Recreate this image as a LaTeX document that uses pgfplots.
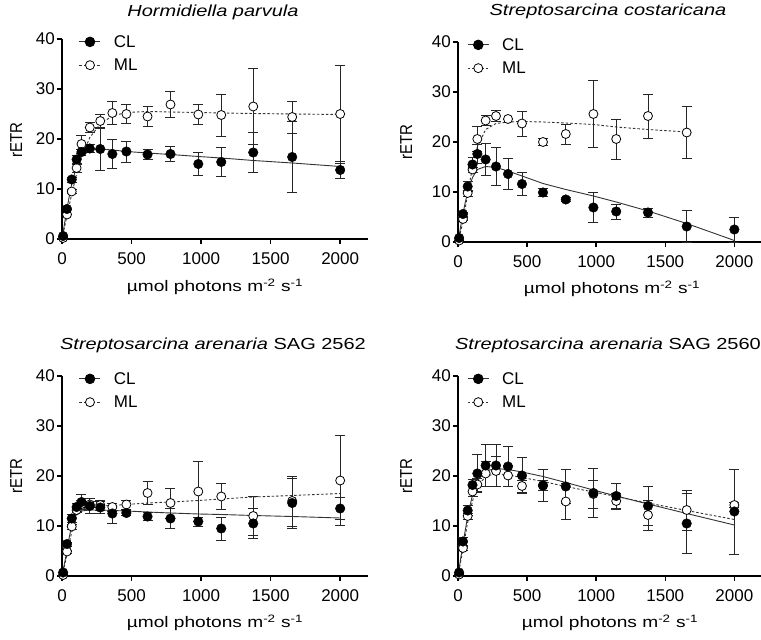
\documentclass[border=0pt]{standalone}
\usepackage{fontspec}
\setmainfont{Liberation Sans}
\usepackage{graphicx}
\usepackage{pgfplots}
\usepackage{pgfplotstable}
\pgfplotsset{compat=1.18}

% data: x, CL mean, CL sd, ML mean, ML sd
\pgfplotstableread{
x cl cle ml mle
8 0.6 0 0.2 0
36 6.0 0 4.9 0
70 11.9 0.5 9.5 0.4
105 15.9 0.8 14.2 0.8
140 17.4 0.6 19.0 1.8
200 18.1 0.8 22.3 1.0
275 18.0 4.2 23.6 1.3
362 17.0 2.9 25.2 2.3
463 17.5 2.1 25.0 1.9
615 16.9 1.0 24.5 2.0
780 17.0 1.5 26.9 2.6
980 15.0 2.3 24.9 2.0
1145 15.4 2.9 24.8 4.2
1375 17.3 4.0 26.5 7.6
1655 16.4 7.1 24.4 3.2
2000 13.8 1.7 25.0 9.8
}\Ta
\pgfplotstableread{
x cl cle ml mle
8 0.8 0 0.3 0
36 5.6 0.4 4.6 0.3
70 11.1 1.0 9.8 0.6
105 15.5 1.5 14.5 0.5
140 17.6 1.9 20.6 2.5
200 16.5 3.2 24.3 1.0
275 15.1 3.8 25.2 1.1
362 13.6 3.1 24.6 0
463 11.6 2.3 23.7 2.5
615 9.9 0.8 20.0 0.7
780 8.5 0.4 21.6 2.0
980 6.9 3.0 25.6 6.7
1145 6.1 1.5 20.6 4.0
1375 5.9 0.9 25.2 4.4
1655 3.1 3.2 21.9 5.2
2000 2.5 2.5 nan nan
}\Tb
\pgfplotstableread{
x cl cle ml mle
8 0.7 0 0.2 0
36 6.4 0.4 4.9 0.3
70 11.5 0.8 9.9 0.5
105 13.8 0.8 13.2 0.5
140 14.8 1.5 14.4 0.7
200 14.0 1.5 14.3 0.6
275 13.7 1.2 14.2 1.0
362 12.5 2.0 13.8 0.8
463 12.6 0.5 14.3 0.9
615 11.9 0.8 16.6 2.3
780 11.5 2.0 14.6 3.0
980 10.9 0.9 16.9 6.0
1145 9.5 2.3 15.9 2.6
1375 10.5 3.0 12.0 3.9
1655 14.6 5.0 15.0 5.0
2000 13.5 2.2 19.1 9.0
}\Tc
\pgfplotstableread{
x cl cle ml mle
8 0.7 0 0.3 0
36 6.9 0.9 5.6 0.5
70 13.1 1.0 12.0 0.6
105 18.2 1.2 16.9 1.0
140 20.5 3.8 18.3 1.3
200 22.1 4.2 20.5 2.5
275 22.1 4.2 21.0 3.0
362 21.9 4.0 20.1 2.1
463 20.1 3.6 18.0 1.2
615 18.1 3.2 18.1 1.0
780 17.9 3.4 14.9 3.6
980 16.6 4.9 16.4 2.8
1145 16.0 2.5 15.0 1.6
1375 14.0 3.9 12.2 3.0
1655 10.5 6.0 13.2 4.0
2000 12.9 8.5 14.2 0.5
}\Td
% fitted curves
\pgfplotstableread{
x clf mlf
0 0 0
20 3.4 2.6
36 6.0 4.7
50 8.2 6.5
70 11.0 9.0
105 14.6 13.0
140 16.5 16.3
200 17.7 20.3
275 18.0 23.0
362 17.8 24.6
463 17.5 25.3
615 17.2 25.5
780 16.9 25.4
980 16.5 25.3
1145 16.2 25.2
1375 15.7 25.1
1655 15.2 25.0
2000 14.5 24.9
}\Fa
\pgfplotstableread{
x clf mlf
0 0 0
20 3.2 2.2
36 5.6 4.3
50 7.6 6.4
70 10.0 9.6
105 12.9 15.0
140 14.5 19.0
200 15.1 22.5
275 14.9 23.7
362 14.2 24.0
463 13.2 24.1
615 11.7 24.0
780 10.5 23.8
980 9.2 23.5
1145 8.0 23.0
1375 6.2 22.5
1655 3.7 22.0
2000 0.3 nan
}\Fb
\pgfplotstableread{
x clf mlf
0 0 0
20 2.8 2.3
36 5.2 4.3
50 7.4 6.2
70 10.2 8.8
105 12.4 12.0
140 13.0 13.3
200 13.2 13.9
275 13.2 14.0
362 13.1 14.1
463 13.0 14.3
615 12.8 14.6
780 12.6 14.8
980 12.4 15.1
1145 12.3 15.4
1375 12.1 15.8
1655 11.9 16.1
2000 11.6 16.5
}\Fc
\pgfplotstableread{
x clf mlf
0 0 0
20 3.6 3.0
36 6.4 5.4
50 8.7 7.6
70 12.0 10.8
105 16.2 15.0
140 19.0 17.9
200 21.0 19.9
275 21.5 20.5
362 21.3 20.2
463 20.8 19.7
615 19.9 18.9
780 18.7 17.9
980 17.2 16.8
1145 16.0 15.9
1375 14.4 14.6
1655 12.5 13.1
2000 10.2 11.3
}\Fd

\pgfplotsset{
  prism/.style={
    scale only axis, height=200pt,
    xmin=0, xmax=2200, ymin=0, ymax=40,
    axis x line*=bottom, axis y line*=left,
    xtick={0,500,1000,1500,2000}, ytick={0,10,20,30,40},
    tick align=outside, major tick length=5pt,
    axis line style={line width=1.5pt, black},
    every tick/.style={line width=1.5pt, black},
    /pgf/number format/assume math mode=true,
    /pgf/number format/1000 sep={},
    tick label style={font=\fontsize{17}{19}\selectfont, inner sep=0pt},
    xticklabel style={anchor=north, yshift=-8pt},
    yticklabel style={anchor=east, xshift=-2pt},
    clip=false,
    legend style={draw=none, fill=none, font=\fontsize{17}{19}\selectfont,
      row sep=6pt, inner sep=0pt, cells={anchor=west},
      /tikz/every odd column/.append style={column sep=11pt}},
    legend image code/.code={\draw[mark repeat=2,mark phase=2,##1] plot coordinates {(0pt,0pt) (10.5pt,0pt) (21pt,0pt)};},
  },
  clfit/.style={draw=black!80, line width=0.9pt, no marks, forget plot},
  mlfit/.style={draw=black!80, line width=0.9pt, dash pattern=on 2.5pt off 2pt, no marks, forget plot},
  ebars/.style={only marks, mark=none, forget plot,
    error bars/.cd, y dir=both, y explicit,
    error bar style={line width=0.8pt, black!85},
    error mark options={rotate=90, mark size=5pt, line width=0.8pt, black!85}},
  clmark/.style={only marks, mark=*, mark size=4.8pt, mark options={fill=black, draw=black}, forget plot},
  mlmark/.style={only marks, mark=*, mark size=4.5pt, mark options={fill=white, draw=black, line width=0.8pt}, forget plot},
}

\newcommand{\panel}[2]{%
  \addplot[clfit] table[x=x, y=clf] {#2};
  \addplot[mlfit] table[x=x, y=mlf] {#2};
  \addplot[ebars] table[x=x, y=ml, y error=mle] {#1};
  \addplot[ebars] table[x=x, y=cl, y error=cle] {#1};
  \addplot[mlmark] table[x=x, y=ml] {#1};
  \addplot[clmark] table[x=x, y=cl] {#1};
  \addlegendimage{black!80, line width=0.9pt, mark=*, mark size=4.8pt, mark options={fill=black, draw=black, solid}}
  \addlegendentry{CL}
  \addlegendimage{black!80, line width=0.9pt, dash pattern=on 2.5pt off 2pt, mark=*, mark size=4.5pt, mark options={fill=white, draw=black, solid, line width=0.8pt}}
  \addlegendentry{ML}
}

\begin{document}
\begin{tikzpicture}
\useasboundingbox (0pt,0pt) rectangle (761pt,640pt);

\begin{axis}[prism, width=306pt, at={(62pt,401pt)}, anchor=south west,
  legend style={at={(0.055,1.03)}, anchor=north west}]
\panel{\Ta}{\Fa}
\end{axis}

\begin{axis}[prism, width=304pt, at={(458pt,398pt)}, anchor=south west,
  legend style={at={(0.03,1.03)}, anchor=north west}]
\panel{\Tb}{\Fb}
\end{axis}

\begin{axis}[prism, width=306pt, at={(62pt,64pt)}, anchor=south west,
  legend style={at={(0.055,1.03)}, anchor=north west}]
\panel{\Tc}{\Fc}
\end{axis}

\begin{axis}[prism, width=304pt, at={(458pt,64pt)}, anchor=south west,
  legend style={at={(0.03,1.03)}, anchor=north west}]
\panel{\Td}{\Fd}
\end{axis}

\tikzset{ttl/.style={anchor=base, font=\fontsize{16}{19}\selectfont, xscale=1.25},
         xl/.style={anchor=base, font=\fontsize{15.3}{18}\selectfont, xscale=1.25},
         yl/.style={rotate=90, anchor=base, font=\fontsize{15}{17}\selectfont}}
\node[ttl] at (213pt,623pt) {\textit{Hormidiella parvula}};
\node[ttl] at (608pt,624pt) {\textit{Streptosarcina costaricana}};
\node[ttl] at (213pt,290pt) {\textit{Streptosarcina arenaria} SAG 2562};
\node[ttl] at (608pt,290pt) {\textit{Streptosarcina arenaria} SAG 2560};

\node[xl] at (215pt,348pt) {µmol photons m\textsuperscript{-2} s\textsuperscript{-1}};
\node[xl] at (612pt,346pt) {µmol photons m\textsuperscript{-2} s\textsuperscript{-1}};
\node[xl] at (215pt,12pt) {µmol photons m\textsuperscript{-2} s\textsuperscript{-1}};
\node[xl] at (610pt,12pt) {µmol photons m\textsuperscript{-2} s\textsuperscript{-1}};

\node[yl] at (22pt,500pt) {\scalebox{1}[1.15]{rETR}};
\node[yl] at (412pt,498pt) {\scalebox{1}[1.15]{rETR}};
\node[yl] at (22pt,164pt) {\scalebox{1}[1.15]{rETR}};
\node[yl] at (412pt,164pt) {\scalebox{1}[1.15]{rETR}};
\end{tikzpicture}
\end{document}
